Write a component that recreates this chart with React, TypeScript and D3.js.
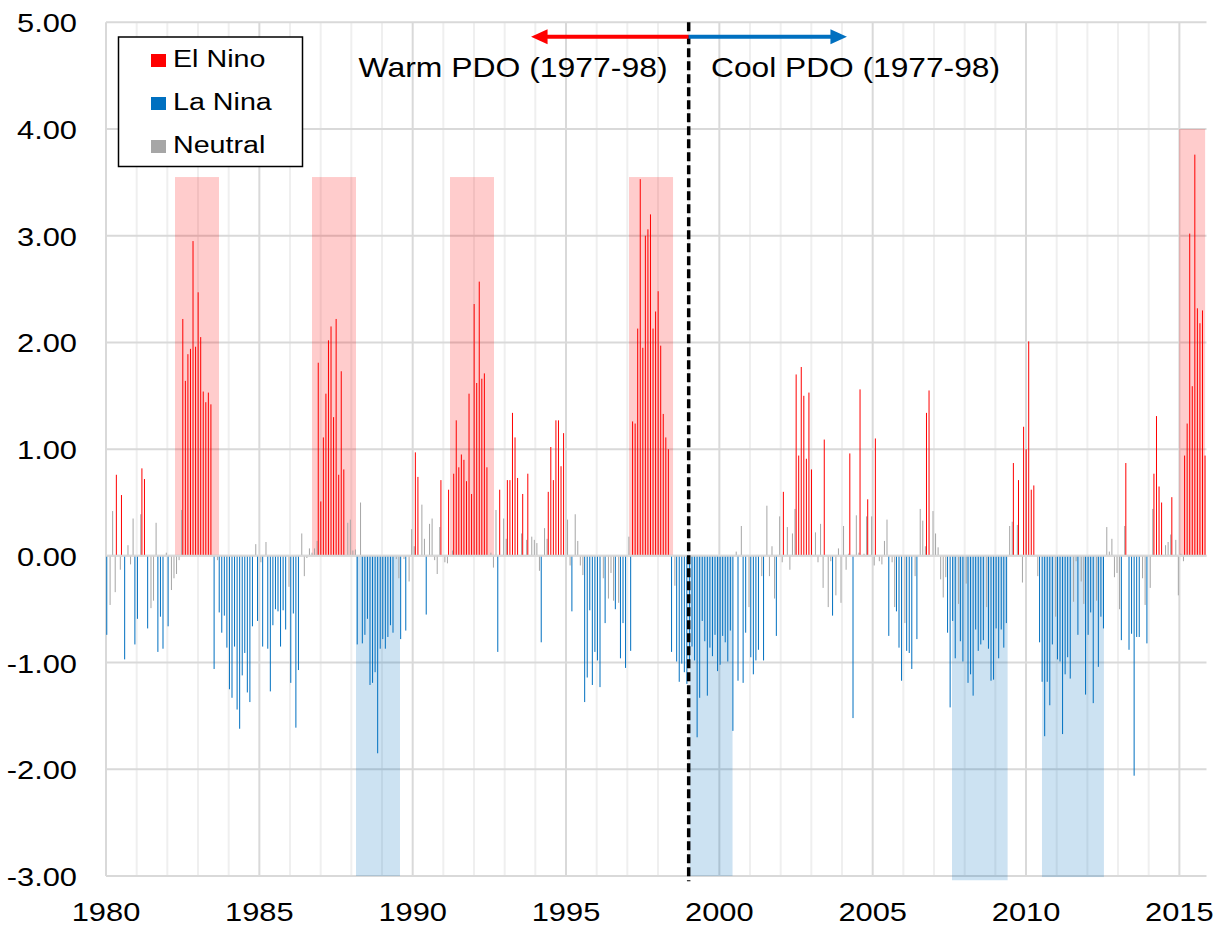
import React from "react";
import * as d3 from "d3";

const WIDTH = 1226;
const HEIGHT = 930;

// Monthly index values from January 1980, one block per decade
const values1980s = [
  -0.74, -0.46, 0.42, -0.34, 0.76, -0.13, 0.57, -0.97, 0.1, -0.08, 0.35, -0.83,
  -0.59, 0.39, 0.82, 0.72, -0.68, -0.49, -0.42, 0.31, -0.9, -0.57, -0.87, 0.03,
  -0.66, -0.32, -0.21, -0.17, -0.04, 0.43, 2.22, 1.64, 1.89, 1.94, 2.95, 1.96,
  2.47, 2.05, 1.54, 1.44, 1.53, 1.42, -1.06, -0.04, -0.53, -0.72, -0.56, -0.86,
  -1.25, -1.33, -0.85, -1.44, -1.62, -1.12, -0.91, -1.28, -1.37, -0.66, 0.11, -0.61,
  -0.06, -0.85, 0.13, -0.87, -1.27, -0.65, -0.5, -0.52, -0.85, -0.51, -0.69, -0.29,
  -1.19, -0.54, -1.61, -1.07, 0.21, -0.19, -0.02, 0.07, 0.03, 0.07, 0.14, 1.81,
  0.51, 1.11, 1.52, 2.02, 2.15, 1.3, 2.22, 0.76, 1.73, 0.81, 0.31, 0.34,
  0.05, 0.06, -0.83, 0.5, -0.82, -0.74, -0.59, -1.21, -1.19, -1.09, -1.85, -0.87,
  -0.78, -0.87, -0.76, -0.65, -0.72, -0.03, -0.21, -0.78, -0.03, -0.7, -0.24, 0.25,
];
const values1990s = [
  0.09, 0.97, 0.74, 0.48, 0.16, -0.55, 0.3, 0.35, -0.04, -0.17, 0.27, 0.71,
  -0.06, -0.07, 0.62, 0.05, 0.77, 1.27, 0.83, 0.95, 0.9, 0.7, 1.52, 0.58,
  2.36, 1.62, 2.57, 1.66, 1.71, 0.83, 0.03, -0.11, 0.43, -0.9, 0.62, 0.35,
  0.16, 0.71, 0.71, 1.34, 1.11, 0.73, 0.21, 0.58, 0.15, 0.77, 0.18, 0.15,
  0.12, -0.14, -0.81, 0.26, 0.16, 0.6, 1.02, 0.71, 1.27, 1.27, 0.84, 1.15,
  0.34, -0.09, -0.52, 0.39, 0.14, -0.09, -0.18, -1.37, -1.14, -0.51, -1.21, -0.9,
  -0.98, -1.23, -0.21, -0.63, -0.4, -0.16, -0.42, -0.5, -0.44, -0.96, -0.63, -1.05,
  0.18, -0.89, 1.26, 1.24, 2.13, 3.53, 1.95, 3.0, 3.06, 3.2, 2.13, 2.29,
  2.48, 1.97, 1.33, 1.11, 1.0, -0.9, -0.28, -0.99, -1.18, -1.01, -1.09, -1.2,
  -1.05, -0.85, -0.98, -1.7, -1.33, -0.61, -0.8, -1.31, -0.86, -0.94, -0.74, -1.08,
];
const values2000s = [
  -1.02, -0.75, -0.81, -0.99, -0.7, -1.64, 0.04, -1.17, 0.28, -1.19, -0.72, -0.48,
  -0.95, -1.11, -0.98, -0.88, -0.19, -0.98, 0.47, -0.19, 0.09, -0.4, -0.75, 0.37,
  -0.06, 0.6, 0.27, -0.13, 0.21, 0.44, 1.7, 0.94, 1.77, 1.5, 0.91, 1.53,
  0.81, 0.22, -0.06, 0.3, -0.3, 1.09, -0.48, -0.05, -0.56, -0.37, 0.07, -0.44,
  0.28, -0.13, 0.02, 0.96, -1.52, 0.38, 0.03, 1.56, 0.02, 0.37, 0.53, 0.37,
  -0.09, 1.1, -0.05, -0.08, 0.14, 0.34, -0.75, -0.06, -0.48, -0.52, -0.86, -1.17,
  -0.63, -0.89, -0.91, -1.06, -0.19, -0.78, 0.44, 0.33, 0.09, 1.34, 1.55, 0.42,
  0.21, 0.08, -0.22, -0.39, -0.2, -0.72, -1.42, -0.61, -0.96, -0.45, -0.8, -0.99,
  -0.26, -1.19, -1.11, -1.31, -0.69, -0.89, -0.83, -0.79, -0.48, -0.87, -1.17, -1.16,
  -0.68, -0.96, -0.69, -0.86, -0.63, 0.28, 0.32, 0.87, 0.29, 0.71, -0.25, 1.21,
];
const values2010s = [
  1.0, 2.01, 0.62, 0.66, -0.19, -0.81, -1.18, -1.69, -1.18, -1.4, -0.83, -0.57,
  -0.97, -0.99, -1.67, -1.11, -0.95, -1.15, -0.43, -0.05, -0.74, -0.24, -0.45, -1.3,
  -0.74, -0.53, -1.38, -0.42, -1.04, -0.57, -0.68, 0.27, 0.04, 0.16, -0.2, -0.16,
  -0.5, -0.79, 0.28, 0.87, -0.88, -0.73, -2.06, -0.76, -0.76, -0.21, -0.46, -0.82,
  -0.3, 0.44, 0.77, 1.31, 0.65, 0.5, 0.1, 0.13, 0.2, 0.55, 0.15, -0.37,
  0.02, -0.05, 0.94, 1.24, 3.02, 1.59, 3.76, 2.32, 2.18, 2.3, 0.94,
];

// Phase of each month: E = El Nino, L = La Nina, N = Neutral
const phases1980s =
  "LNNNENELNNNL" + "LNEELNNNLLLN" + "LNNNNNEEEEEE" + "EEEEEELNLLLL" + "LLLLLLLLLLNL" +
  "NLNLLLLLLLLN" + "LLLLNNNNNNNE" + "EEEEEEEEEENN" + "NNLNLLLLLLLL" + "LLLLLNNLNLNN";
const phases1990s =
  "NEENNLNNNNNE" + "NNENEEEEEEEE" + "EEEEEENNNLEN" + "NEEEEENENENN" + "NNLNNEEEEEEE" +
  "NNLNNNNLLLLL" + "LLNLNNNLNLLL" + "NLEEEEEEEEEE" + "EEEEELNLLLLL" + "LLLLLLLLLLLL";
const phases2000s =
  "LLLLLLNLNLLN" + "LLLLNLNNNNLN" + "NENNNNEEEEEE" + "ENNNNENNLNNN" + "NNNELNNENNEN" +
  "NENNNNLNNLLL" + "NLLLNLNNNEEN" + "NNNNNLLLLNLL" + "NLLLLLLLNLLL" + "LLLLLNNENENE";
const phases2010s =
  "EEEENLLLLLLN" + "LLLLLLNNLNNL" + "LLLNLLLNNNNN" + "NLNELLLLLNNL" + "NNEEEENNNENN" +
  "NNEEEEEEEEE";

const yTicks = [5, 4, 3, 2, 1, 0, -1, -2, -3];
const xTicks = [1980, 1985, 1990, 1995, 2000, 2005, 2010, 2015];

// Shaded event windows: [start year, end year, extent]
const elNinoEvents: [number, number, number][] = [
  [1982.25, 1983.685, 3.55],
  [1986.717, 1988.152, 3.55],
  [1991.217, 1992.652, 3.55],
  [1997.054, 1998.49, 3.55],
  [2014.99, 2015.84, 4.0],
];
const laNinaEvents: [number, number, number][] = [
  [1988.152, 1989.587, -3.0],
  [1999.04, 2000.43, -3.0],
  [2007.586, 2009.4, -3.04],
  [2010.52, 2012.54, -3.01],
];

const shiftYear = 1999;
const warmArrowEnd = 1993.86;
const coolArrowEnd = 2004.16;
const arrowLevel = 4.865;

const legendItems = [
  { label: "El Nino", phase: "E" },
  { label: "La Nina", phase: "L" },
  { label: "Neutral", phase: "N" },
];

const phaseColor: Record<string, string> = { E: "#ff0000", L: "#0070c0", N: "#a6a6a6" };
// position of each series inside its month slot (in months)
const phaseOffset: Record<string, number> = { E: 0.05, L: 0.3, N: 0.6 };

const FONT = "'Liberation Sans', Arial, sans-serif";

function Stretched(props: {
  x: number;
  y: number;
  size: number;
  sx: number;
  anchor?: "start" | "middle" | "end";
  children: React.ReactNode;
}) {
  const { x, y, size, sx, anchor = "start", children } = props;
  return (
    <text
      transform={`translate(${x},${y}) scale(${sx},1)`}
      textAnchor={anchor}
      fontSize={size}
      fontFamily={FONT}
      fill="#000"
    >
      {children}
    </text>
  );
}

export default function App() {
  const x = d3.scaleLinear().domain([1980, 2015.885]).range([106, 1206.5]);
  const y = d3.scaleLinear().domain([-3, 5]).range([876, 22.3]);

  const values = [...values1980s, ...values1990s, ...values2000s, ...values2010s];
  const phases = (phases1980s + phases1990s + phases2000s + phases2010s).split("");
  const bars = values.map((v, i) => {
    const p = phases[i] || "N";
    return { v, p, t: 1980 + (i + phaseOffset[p]) / 12 };
  });

  const years = d3.range(1980, 2016);
  const [x0, x1] = x.range();
  const yTop = y(5);
  const yBottom = y(-3);

  const arrowY = y(arrowLevel);
  const xShift = x(shiftYear);
  const head = (tipX: number, dir: number) =>
    `M${tipX},${arrowY} L${tipX + dir * 16.5},${arrowY - 7.5} L${tipX + dir * 16.5},${arrowY + 7.5} Z`;

  return (
    <svg
      width={WIDTH}
      height={HEIGHT}
      style={{ position: "absolute", left: 0, top: 0, background: "#fff" }}
    >
      <rect x={0} y={0} width={WIDTH} height={HEIGHT} fill="#fff" />

      {/* yearly vertical gridlines */}
      {years.map((yr) => (
        <line
          key={`v${yr}`}
          x1={x(yr)}
          x2={x(yr)}
          y1={yTop}
          y2={yBottom}
          stroke={yr % 5 === 0 ? "#d9d9d9" : "#efefef"}
          strokeWidth={2}
        />
      ))}

      {/* horizontal gridlines */}
      {yTicks.map((t) => (
        <line key={`h${t}`} x1={x0} x2={x1} y1={y(t)} y2={y(t)} stroke="#d9d9d9" strokeWidth={2} />
      ))}

      {/* shaded event windows */}
      {elNinoEvents.map(([a, b, h], i) => (
        <rect
          key={`en${i}`}
          x={x(a)}
          width={x(b) - x(a)}
          y={y(h)}
          height={y(0) - y(h)}
          fill="#ff0000"
          fillOpacity={0.2}
        />
      ))}
      {laNinaEvents.map(([a, b, h], i) => (
        <rect
          key={`ln${i}`}
          x={x(a)}
          width={x(b) - x(a)}
          y={y(0)}
          height={y(h) - y(0)}
          fill="#0070c0"
          fillOpacity={0.2}
        />
      ))}

      {/* monthly bars */}
      {bars.map((d, i) => {
        const top = y(Math.max(0, d.v));
        const bot = y(Math.min(0, d.v));
        return (
          <rect
            key={`b${i}`}
            x={x(d.t) - 0.5}
            width={1}
            y={top}
            height={Math.max(0.5, bot - top)}
            fill={phaseColor[d.p]}
          />
        );
      })}

      {/* zero line */}
      <line x1={x0} x2={x1} y1={y(0)} y2={y(0)} stroke="#d9d9d9" strokeWidth={2} />

      {/* regime shift marker */}
      <line
        x1={xShift}
        x2={xShift}
        y1={yTop}
        y2={y(-3.05)}
        stroke="#000"
        strokeWidth={3.5}
        strokeDasharray="9,4"
      />
      <line x1={xShift} x2={x(warmArrowEnd) + 14} y1={arrowY} y2={arrowY} stroke="#ff0000" strokeWidth={4} />
      <path d={head(x(warmArrowEnd), 1)} fill="#ff0000" />
      <line x1={xShift} x2={x(coolArrowEnd) - 14} y1={arrowY} y2={arrowY} stroke="#0070c0" strokeWidth={4} />
      <path d={head(x(coolArrowEnd), -1)} fill="#0070c0" />

      <text x={358.5} y={77} fontSize={28.5} fontFamily={FONT} textLength={309} lengthAdjust="spacingAndGlyphs">
        Warm PDO (1977-98)
      </text>
      <text x={711} y={77} fontSize={28.5} fontFamily={FONT} textLength={289} lengthAdjust="spacingAndGlyphs">
        Cool PDO (1977-98)
      </text>

      {/* y axis labels */}
      {yTicks.map((t) => (
        <Stretched key={`yl${t}`} x={77} y={y(t) + 10} size={25.7} sx={1.2} anchor="end">
          {t.toFixed(2)}
        </Stretched>
      ))}

      {/* x axis labels */}
      {xTicks.map((t) => (
        <Stretched key={`xl${t}`} x={x(t)} y={921} size={25.7} sx={1.2} anchor="middle">
          {String(t)}
        </Stretched>
      ))}

      {/* legend */}
      <rect x={118.5} y={37} width={184} height={129.5} fill="#fff" stroke="#000" strokeWidth={1.5} />
      {legendItems.map((item, i) => {
        const base = 67 + i * 43;
        return (
          <g key={item.label}>
            <rect x={151} y={base - 13} width={15} height={13} fill={phaseColor[item.phase]} />
            <Stretched x={173} y={base} size={23.3} sx={1.23}>
              {item.label}
            </Stretched>
          </g>
        );
      })}
    </svg>
  );
}
